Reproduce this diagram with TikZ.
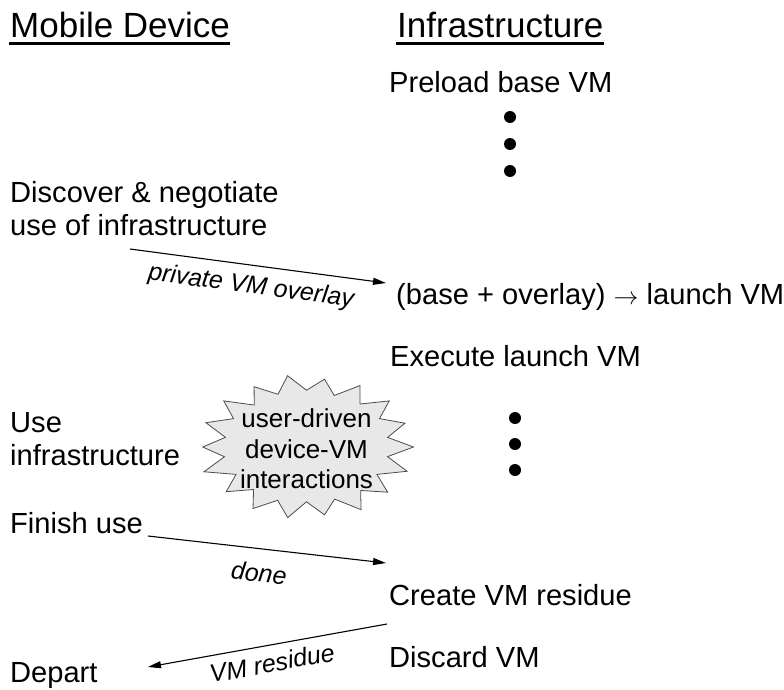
\documentclass[tikz,border=0pt]{standalone}
\usepackage{fontspec}
\setmainfont{Liberation Sans}
\usetikzlibrary{arrows.meta}
\begin{document}
\begin{tikzpicture}[x=1pt,y=-1pt,
  txt/.style={anchor=base west, inner sep=0pt, font=\fontsize{29.1}{33}\selectfont},
  ttl/.style={anchor=base west, inner sep=0pt, font=\fontsize{35}{40}\selectfont},
  lbl/.style={inner sep=0pt, font=\fontsize{25}{30}\selectfont\itshape},
  sttxt/.style={anchor=base, inner sep=0pt, font=\fontsize{26}{30}\selectfont},
  arr/.style={line width=1.1pt, -{Triangle[length=13pt,width=7pt]}},
  bigdot/.style={circle, fill=black, inner sep=0pt, minimum size=12pt},
  uline/.style={line width=3pt}]
\useasboundingbox (0,0) rectangle (784,690);

% titles
\node[ttl] (mob) at (10,38) {Mobile Device};
\node[ttl] (inf) at (397,38) {Infrastructure};
\draw[uline] ([xshift=-1pt,yshift=-5.5pt]mob.base west) -- ([yshift=-5.5pt]mob.base east);
\draw[uline] ([xshift=-1pt,yshift=-5.5pt]inf.base west) -- ([yshift=-5.5pt]inf.base east);

% infrastructure column
\node[txt] (pre) at (389,93) {Preload base VM};
\node[bigdot] (d1) at (510,117) {};
\node[bigdot] (d2) at (510,144) {};
\node[bigdot] (d3) at (510,171) {};
\node[txt] (lau) at (396,304) {(base + overlay) $\rightarrow$ launch VM};
\node[txt] (exe) at (390,366) {Execute launch VM};
\node[bigdot] (d4) at (515,418) {};
\node[bigdot] (d5) at (515,444) {};
\node[bigdot] (d6) at (515,470) {};
\node[txt] (cre) at (389,605) {Create VM residue};
\node[txt] (dis) at (389,667) {Discard VM};

% mobile column
\node[txt] (disc1) at (10,202) {Discover \& negotiate};
\node[txt] (disc2) at (10,235) {use of infrastructure};
\node[txt] (use1) at (10,432) {Use};
\node[txt] (use2) at (10,465) {infrastructure};
\node[txt] (fin) at (10,533) {Finish use};
\node[txt] (dep) at (10,682) {Depart};

% starburst
\draw[draw=black!70, line width=0.8pt, fill=black!9]
  (306.5+107,447)
  \foreach \i/\ro/\ri in {0/1.00/0.84, 1/0.99/0.83, 2/1.02/0.86, 3/0.97/0.84, 4/1.01/0.83,
                          5/1.00/0.86, 6/0.98/0.84, 7/1.02/0.83, 8/0.97/0.85, 9/1.00/0.84,
                          10/1.01/0.86, 11/0.98/0.83, 12/1.02/0.85, 13/0.97/0.86, 14/1.00/0.83,
                          15/1.01/0.85, 16/0.98/0.86, 17/1.00/0.84} {
     -- ({306.5+\ri*98*cos(\i*20+10)}, {447+\ri*66*sin(\i*20+10)})
     -- ({306.5+\ro*107*cos(\i*20+20)}, {447+\ro*71*sin(\i*20+20)})
  } -- cycle;
\node[sttxt] (s1) at (306.5,427) {user-driven};
\node[sttxt] (s2) at (306.5,458) {device-VM};
\node[sttxt] (s3) at (306.5,488) {interactions};

% arrows
\coordinate (p1s) at (130,249);
\coordinate (p1e) at (386,283);
\coordinate (p2s) at (148,536);
\coordinate (p2e) at (386,563);
\coordinate (p3s) at (387,624);
\coordinate (p3e) at (148,667);
\draw[arr] (p1s) -- (p1e);
\draw[arr] (p2s) -- (p2e);
\draw[arr] (p3s) -- (p3e);
\node[lbl, rotate=-7.6] (l1) at (251,287) {private VM overlay};
\node[lbl, rotate=-6.5] (l2) at (259,573) {done};
\node[lbl, rotate=10.2] (l3) at (272,663) {VM residue};
\end{tikzpicture}
\end{document}
